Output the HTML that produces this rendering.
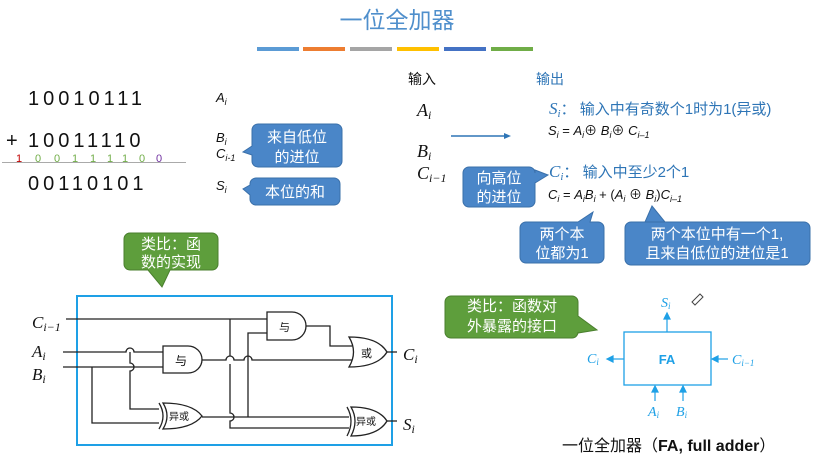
<!DOCTYPE html>
<html><head><meta charset="utf-8"><style>
body{margin:0;background:#fff;}
svg{display:block;font-family:"Liberation Sans","Noto Sans CJK SC",sans-serif;}
.m{font-family:"Liberation Serif","Noto Serif CJK SC",serif;font-style:italic;}
</style></head><body>
<svg width="814" height="466" viewBox="0 0 814 466" xmlns="http://www.w3.org/2000/svg">
<text x="397" y="28" font-size="23" fill="#4f8fcc" text-anchor="middle">一位全加器</text>
<g stroke-width="4">
<line x1="257" y1="49" x2="299" y2="49" stroke="#5b9bd5"/>
<line x1="303" y1="49" x2="345" y2="49" stroke="#ed7d31"/>
<line x1="350" y1="49" x2="392" y2="49" stroke="#a5a5a5"/>
<line x1="397" y1="49" x2="439" y2="49" stroke="#ffc000"/>
<line x1="444" y1="49" x2="486" y2="49" stroke="#4472c4"/>
<line x1="491" y1="49" x2="533" y2="49" stroke="#70ad47"/>
</g>
<g font-size="20" fill="#111" letter-spacing="4">
<text x="28" y="105">10010111</text>
<text x="6" y="147" letter-spacing="0">+</text>
<text x="28" y="147">10011110</text>
<text x="28" y="190">00110101</text>
</g>
<g font-size="11">
<text x="16" y="162" fill="#c00000">1</text>
<g fill="#70ad47"><text x="35" y="162">0</text><text x="54" y="162">0</text><text x="72" y="162">1</text><text x="90" y="162">1</text><text x="107" y="162">1</text><text x="122" y="162">1</text><text x="139" y="162">0</text></g>
<text x="156" y="162" fill="#7030a0">0</text>
</g>
<line x1="2" y1="162.5" x2="186" y2="162.5" stroke="#aaa" stroke-width="1"/>
<g font-size="13" font-style="italic" fill="#111">
<text x="216" y="102">A<tspan font-size="9" dy="3">i</tspan></text>
<text x="216" y="142">B<tspan font-size="9" dy="3">i</tspan></text>
<text x="216" y="158">C<tspan font-size="9" dy="3">i-1</tspan></text>
<text x="216" y="190">S<tspan font-size="9" dy="3">i</tspan></text>
</g>
<g fill="#4a86c8" stroke="#3a70aa" stroke-width="1">
<path d="M258,124 H336 a6,6 0 0 1 6,6 V161 a6,6 0 0 1 -6,6 H258 a6,6 0 0 1 -6,-6 V155 L243,152 L252,146 V130 a6,6 0 0 1 6,-6Z"/>
<path d="M256,178 H334 a6,6 0 0 1 6,6 V199 a6,6 0 0 1 -6,6 H256 a6,6 0 0 1 -6,-6 V195 L243,189 L250,185 V184 a6,6 0 0 1 6,-6Z"/>
<path d="M469,167 H529 a6,6 0 0 1 6,6 V170 L548,175 L535,183 V201 a6,6 0 0 1 -6,6 H469 a6,6 0 0 1 -6,-6 V173 a6,6 0 0 1 6,-6Z"/>
<path d="M526,222 H578 L593,212 L590,222 H598 a6,6 0 0 1 6,6 V257 a6,6 0 0 1 -6,6 H526 a6,6 0 0 1 -6,-6 V228 a6,6 0 0 1 6,-6Z"/>
<path d="M631,222 H665 L652,206 L645,222 H804 a6,6 0 0 1 6,6 V259 a6,6 0 0 1 -6,6 H631 a6,6 0 0 1 -6,-6 V228 a6,6 0 0 1 6,-6Z"/>
</g>
<g fill="#fff" font-size="15">
<text x="297" y="142" text-anchor="middle">来自低位</text>
<text x="297" y="162" text-anchor="middle">的进位</text>
<text x="295" y="197" text-anchor="middle">本位的和</text>
<text x="499" y="183" text-anchor="middle">向高位</text>
<text x="499" y="202" text-anchor="middle">的进位</text>
<text x="562" y="239" text-anchor="middle">两个本</text>
<text x="562" y="258" text-anchor="middle">位都为1</text>
<text x="717" y="239" text-anchor="middle">两个本位中有一个1,</text>
<text x="717" y="258" text-anchor="middle">且来自低位的进位是1</text>
</g>
<text x="408" y="84" font-size="14" fill="#111">输入</text>
<text x="536" y="84" font-size="14" fill="#2e75b6">输出</text>
<g class="m" font-size="18" fill="#111">
<text x="417" y="116">A<tspan font-size="12" dy="3">i</tspan></text>
<text x="417" y="157">B<tspan font-size="12" dy="3">i</tspan></text>
<text x="417" y="179">C<tspan font-size="12" dy="3">i−1</tspan></text>
</g>
<line x1="451" y1="136" x2="505" y2="136" stroke="#2e75b6" stroke-width="1.5"/>
<path d="M511,136 L504,133 L504,139Z" fill="#2e75b6"/>
<text x="549" y="114" font-size="15" fill="#2e75b6"><tspan class="m" font-size="17">S<tspan font-size="11" dy="3">i</tspan></tspan><tspan dy="-3">： 输入中有奇数个1时为1(异或)</tspan></text>
<text x="548" y="135" font-size="13" fill="#111"><tspan font-style="italic">S<tspan font-size="9" dy="3">i</tspan></tspan><tspan dy="-3"> = </tspan><tspan font-style="italic">A<tspan font-size="9" dy="3">i</tspan></tspan><tspan dy="-3">⊕ </tspan><tspan font-style="italic">B<tspan font-size="9" dy="3">i</tspan></tspan><tspan dy="-3">⊕ </tspan><tspan font-style="italic">C<tspan font-size="9" dy="3">i–1</tspan></tspan></text>
<text x="549" y="177" font-size="15" fill="#2e75b6"><tspan class="m" font-size="17">C<tspan font-size="11" dy="3">i</tspan></tspan><tspan dy="-3">： 输入中至少2个1</tspan></text>
<text x="548" y="199" font-size="13" fill="#111"><tspan font-style="italic">C<tspan font-size="9" dy="3">i</tspan></tspan><tspan dy="-3"> = </tspan><tspan font-style="italic">A<tspan font-size="9" dy="3">i</tspan></tspan><tspan font-style="italic" dy="-3">B<tspan font-size="9" dy="3">i</tspan></tspan><tspan dy="-3"> + (</tspan><tspan font-style="italic">A<tspan font-size="9" dy="3">i</tspan></tspan><tspan dy="-3"> ⊕ </tspan><tspan font-style="italic">B<tspan font-size="9" dy="3">i</tspan></tspan><tspan dy="-3">)</tspan><tspan font-style="italic">C<tspan font-size="9" dy="3">i–1</tspan></tspan></text>
<g fill="#5e9e3c" stroke="#4a7f2e" stroke-width="1">
<path d="M130,233 H212 a6,6 0 0 1 6,6 V264 a6,6 0 0 1 -6,6 H170 L162,287 L148,270 H130 a6,6 0 0 1 -6,-6 V239 a6,6 0 0 1 6,-6Z"/>
<path d="M451,296 H572 a6,6 0 0 1 6,6 V316 L597,330 L578,333 V332 a6,6 0 0 1 -6,6 H451 a6,6 0 0 1 -6,-6 V302 a6,6 0 0 1 6,-6Z"/>
</g>
<g fill="#fff" font-size="15">
<text x="171" y="249" text-anchor="middle">类比：函</text>
<text x="171" y="267" text-anchor="middle">数的实现</text>
<text x="512" y="311" text-anchor="middle">类比：函数对</text>
<text x="512" y="331" text-anchor="middle">外暴露的接口</text>
</g>
<rect x="77" y="296" width="315" height="149" fill="none" stroke="#1ea0e6" stroke-width="2"/>
<g fill="none" stroke="#222" stroke-width="1.3">
<path d="M66,319 H267"/>
<path d="M63,352 H126 a4,4 0 0 1 8,0 H163"/>
<path d="M63,367 H163"/>
<path d="M92,367 V423 H159"/>
<path d="M130,352 V363 a4,4 0 0 1 0,8 V409 H159"/>
<path d="M202,360 H226 a4,4 0 0 1 8,0 H244 a4,4 0 0 1 8,0 H352"/>
<path d="M230,319 V356 M230,364 V413 a4,4 0 0 1 0,8 V428 H349"/>
<path d="M202,417 H349"/>
<path d="M248,417 V333 H267"/>
<path d="M306,326 H330 V346 H352"/>
<path d="M387,352 H397"/>
<path d="M387,421 H397"/>
<path d="M267,312 H292 A14,14 0 0 1 292,340 H267 Z" fill="#fff"/>
<path d="M163,346 H188 A14,13.5 0 0 1 188,373 H163 Z" fill="#fff"/>
<path d="M349,337 Q378,337 387,352 Q378,367 349,367 Q358,352 349,337Z" fill="#fff"/>
<path d="M163,403 Q192,403 202,416 Q192,429 163,429 Q171,416 163,403Z" fill="#fff"/>
<path d="M159,403 Q167,416 159,429"/>
<path d="M351,407 Q378,407 387,421 Q378,436 351,436 Q359,421 351,407Z" fill="#fff"/>
<path d="M347,407 Q355,421 347,436"/>
</g>
<g font-size="11" fill="#111">
<text x="279" y="331">与</text>
<text x="175" y="365" font-size="12">与</text>
<text x="361" y="357">或</text>
<text x="169" y="420" font-size="10">异或</text>
<text x="356" y="425" font-size="10">异或</text>
</g>
<g class="m" font-size="17" fill="#111">
<text x="32" y="328">C<tspan font-size="12" dy="3">i−1</tspan></text>
<text x="32" y="357">A<tspan font-size="12" dy="3">i</tspan></text>
<text x="32" y="380">B<tspan font-size="12" dy="3">i</tspan></text>
<text x="403" y="360">C<tspan font-size="12" dy="3">i</tspan></text>
<text x="403" y="430">S<tspan font-size="12" dy="3">i</tspan></text>
</g>
<rect x="624" y="332" width="87" height="53" fill="none" stroke="#1ea0e6" stroke-width="1.3"/>
<text x="667" y="364" font-size="13" font-weight="bold" fill="#1ea0e6" text-anchor="middle">FA</text>
<g stroke="#1ea0e6" stroke-width="1.2" fill="#1ea0e6">
<line x1="667" y1="332" x2="667" y2="318"/><path d="M667,313 L664,319 L670,319Z"/>
<line x1="624" y1="359" x2="612" y2="359"/><path d="M607,359 L613,356 L613,362Z"/>
<line x1="728" y1="359" x2="717" y2="359"/><path d="M712,359 L718,356 L718,362Z"/>
<line x1="655" y1="401" x2="655" y2="391"/><path d="M655,386 L652,392 L658,392Z"/>
<line x1="683" y1="401" x2="683" y2="391"/><path d="M683,386 L680,392 L686,392Z"/>
</g>
<g class="m" font-size="14" fill="#1ea0e6">
<text x="661" y="307">S<tspan font-size="9" dy="2">i</tspan></text>
<text x="587" y="363">C<tspan font-size="9" dy="2">i</tspan></text>
<text x="732" y="364">C<tspan font-size="9" dy="2">i−1</tspan></text>
<text x="648" y="416">A<tspan font-size="9" dy="2">i</tspan></text>
<text x="676" y="416">B<tspan font-size="9" dy="2">i</tspan></text>
</g>
<path d="M692,302 L700,294 L703,297 L695,305 Z" fill="none" stroke="#444" stroke-width="1"/>
<text x="562" y="451" font-size="16" fill="#111">一位全加器（<tspan font-weight="bold">FA, full adder</tspan>）</text>
</svg>
</body></html>
